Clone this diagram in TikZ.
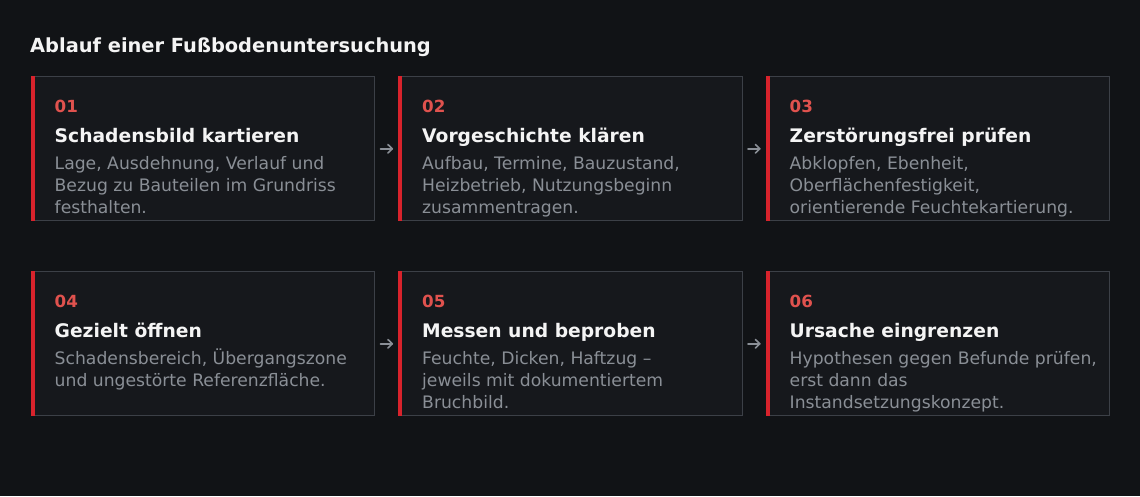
\documentclass[tikz,border=0pt]{standalone}
\usepackage{fontspec}
\setmainfont{DejaVu Sans}
\usetikzlibrary{positioning,calc}
\definecolor{bgc}{HTML}{111316}
\definecolor{cardfill}{HTML}{16181C}
\definecolor{cardline}{HTML}{3C4047}
\definecolor{redbar}{HTML}{D8232C}
\definecolor{numred}{HTML}{E0524E}
\definecolor{titlew}{HTML}{F4F4F4}
\definecolor{bodyg}{HTML}{8A8F96}
\tikzset{
  card/.style={draw=cardline, line width=1pt, fill=cardfill, minimum width=343.5pt, minimum height=143.5pt, inner sep=0pt, anchor=north west},
  bar/.style={fill=redbar, draw=none},
  numtxt/.style={anchor=base west, inner sep=0pt, text=numred, font=\fontsize{16.7}{19}\selectfont\bfseries},
  headtxt/.style={anchor=base west, inner sep=0pt, text=titlew, font=\fontsize{18.7}{22}\selectfont\bfseries},
  bodytxt/.style={anchor=base west, inner sep=0pt, text=bodyg, font=\fontsize{17.2}{20}\selectfont},
  arrowstroke/.style={draw=bodyg, line width=1.6pt, line cap=round, line join=round},
  maintitle/.style={anchor=base west, inner sep=0pt, text=titlew, font=\fontsize{19.4}{23}\selectfont\bfseries}
}
\newcommand{\stepcard}[8]{%
  \node[card] (#1) at (#2,#3) {};
  \fill[bar] (#1.north west) rectangle ([xshift=4pt]#1.south west);
  \node[numtxt] (#1num) at ([xshift=24pt,yshift=-36pt]#1.north west) {#4};
  \node[headtxt] (#1head) at ([xshift=24pt,yshift=-66pt]#1.north west) {#5};
  \node[bodytxt] (#1b1) at ([xshift=24pt,yshift=-93.5pt]#1.north west) {#6};
  \node[bodytxt] (#1b2) at ([xshift=24pt,yshift=-115.5pt]#1.north west) {#7};
  \node[bodytxt] (#1b3) at ([xshift=24pt,yshift=-137.5pt]#1.north west) {#8};
}
\newcommand{\flowarrow}[3]{%
  \coordinate (#1) at ([yshift=-0.5pt]$(#2.east)!0.5!(#3.west)$);
  \draw[arrowstroke] ([xshift=-6pt]#1) -- ([xshift=5.6pt]#1);
  \draw[arrowstroke] ([xshift=1.4pt,yshift=4.2pt]#1) -- ([xshift=5.8pt]#1) -- ([xshift=1.4pt,yshift=-4.2pt]#1);
}
\begin{document}
\begin{tikzpicture}[x=1pt,y=-1pt]
\fill[bgc] (0,0) rectangle (1140,496);
\useasboundingbox (0,0) rectangle (1140,496);
\node[maintitle] (title) at (30,52) {Ablauf einer Fußbodenuntersuchung};
\stepcard{c1}{30.5}{76}{01}{Schadensbild kartieren}{Lage, Ausdehnung, Verlauf und}{Bezug zu Bauteilen im Grundriss}{festhalten.}
\stepcard{c2}{398}{76}{02}{Vorgeschichte klären}{Aufbau, Termine, Bauzustand,}{Heizbetrieb, Nutzungsbeginn}{zusammentragen.}
\stepcard{c3}{765.5}{76}{03}{Zerstörungsfrei prüfen}{Abklopfen, Ebenheit,}{Oberflächenfestigkeit,}{orientierende Feuchtekartierung.}
\stepcard{c4}{30.5}{271}{04}{Gezielt öffnen}{Schadensbereich, Übergangszone}{und ungestörte Referenzfläche.}{}
\stepcard{c5}{398}{271}{05}{Messen und beproben}{Feuchte, Dicken, Haftzug –}{jeweils mit dokumentiertem}{Bruchbild.}
\stepcard{c6}{765.5}{271}{06}{Ursache eingrenzen}{Hypothesen gegen Befunde prüfen,}{erst dann das}{Instandsetzungskonzept.}
\flowarrow{a12}{c1}{c2}
\flowarrow{a23}{c2}{c3}
\flowarrow{a45}{c4}{c5}
\flowarrow{a56}{c5}{c6}
\end{tikzpicture}
\end{document}
